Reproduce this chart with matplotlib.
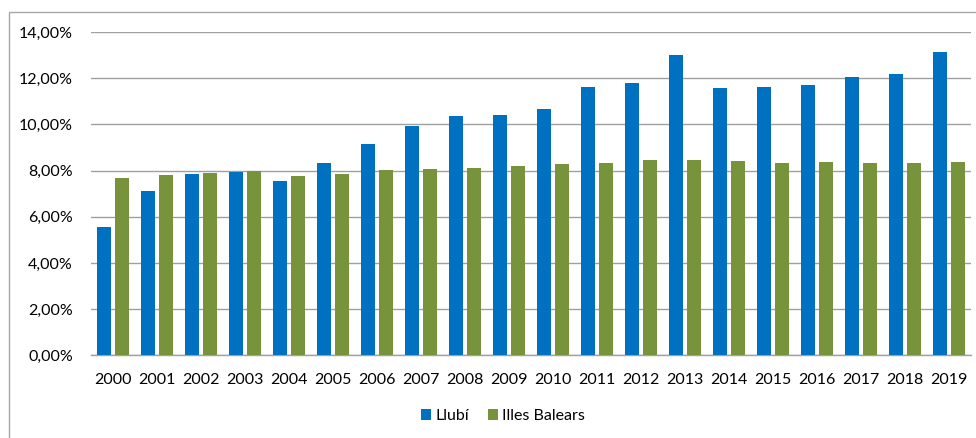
import matplotlib
matplotlib.use("Agg")
import matplotlib.pyplot as plt
from matplotlib.patches import Rectangle
from matplotlib.ticker import FuncFormatter
import numpy as np

years = [str(y) for y in range(2000, 2020)]
llubi = [5.54, 7.13, 7.84, 7.93, 7.56, 8.32, 9.15, 9.92, 10.35, 10.42,
         10.68, 11.61, 11.78, 12.99, 11.59, 11.61, 11.72, 12.05, 12.17, 13.12]
balears = [7.68, 7.80, 7.90, 8.00, 7.77, 7.85, 8.01, 8.05, 8.10, 8.18,
           8.27, 8.34, 8.45, 8.45, 8.40, 8.33, 8.36, 8.34, 8.33, 8.39]
series_names = ["Llubí", "Illes Balears"]
yticks = [0, 2, 4, 6, 8, 10, 12, 14]

plt.rcParams['font.family'] = ['Lato', 'DejaVu Sans']
FS = 11.5

W, H = 976, 438
fig = plt.figure(figsize=(W / 100, H / 100), dpi=100)
ax = fig.add_axes([91 / W, 1 - 355.3 / H, (971 - 91) / W, (355.3 - 32) / H])

x = np.arange(len(years))
bw = 0.33
off = 0.205
ax.bar(x - off, llubi, bw, color="#0070C0", label=series_names[0], zorder=3)
ax.bar(x + off, balears, bw, color="#77933C", label=series_names[1], zorder=3)

ax.set_xlim(-0.5, len(years) - 0.5)
ax.set_ylim(0, 14)
ax.set_yticks(yticks)
ax.yaxis.set_major_formatter(FuncFormatter(lambda v, p: f"{v:.2f}".replace(".", ",") + "%"))
ax.set_xticks(x)
ax.set_xticklabels(years)
ax.tick_params(axis="both", length=0, labelsize=FS, colors="#000000")
ax.tick_params(axis="y", pad=13)
ax.tick_params(axis="x", pad=13)
ax.grid(axis="y", color="#a0a0a0", linewidth=1.0, zorder=0)
for s in ["top", "right", "left"]:
    ax.spines[s].set_visible(False)
ax.spines["bottom"].set_color("#a0a0a0")
ax.spines["bottom"].set_linewidth(1.0)

handles, labels = ax.get_legend_handles_labels()
fig.legend(handles, labels, loc="center", bbox_to_anchor=(503 / W, 1 - 416 / H),
           ncol=2, frameon=False, fontsize=FS, handlelength=0.62, handleheight=0.62,
           handletextpad=0.25, columnspacing=1.2, borderpad=0)

fig.patches.append(Rectangle((9 / W, -0.05), 1.2, 1 - 12 / H + 0.05,
                             transform=fig.transFigure, fill=False,
                             edgecolor="#a6a6a6", linewidth=1.0))

fig.savefig("out.png", dpi=100)
